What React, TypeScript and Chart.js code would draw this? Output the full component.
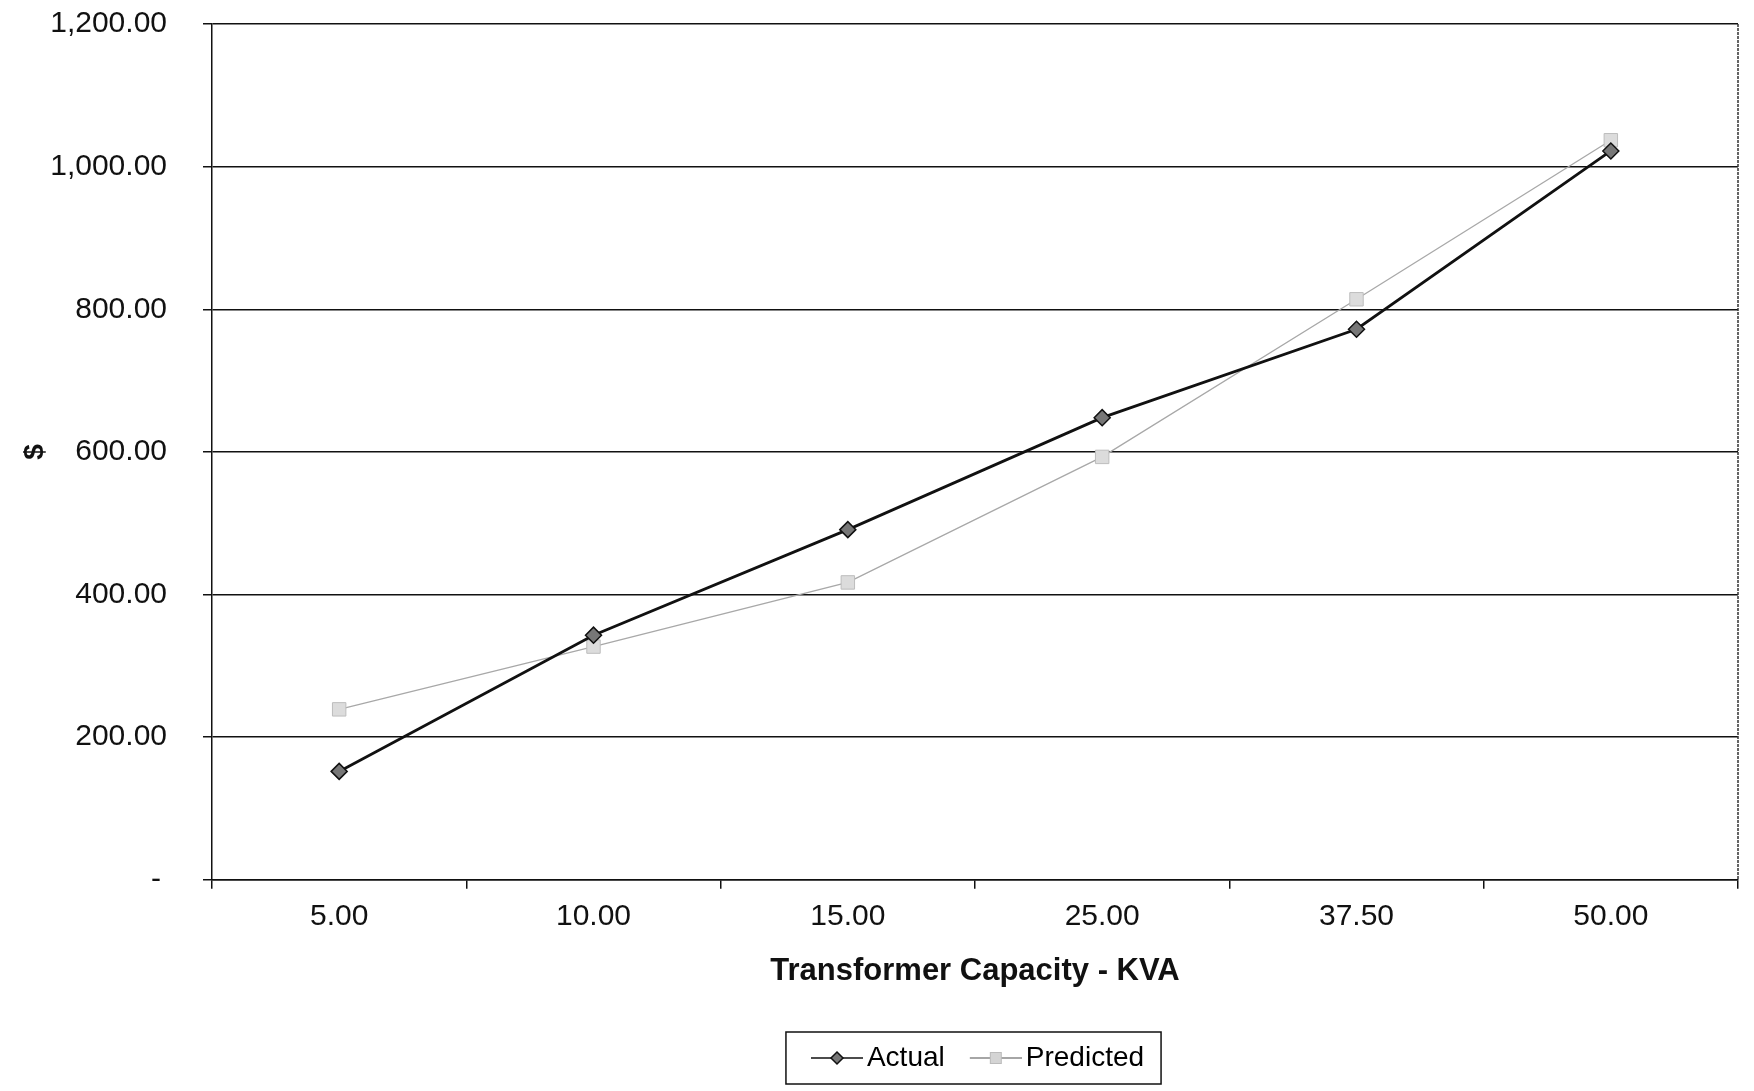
import React, { useEffect, useRef } from "react";
import { Chart, registerables } from "chart.js";

Chart.register(...registerables);

const categories = ["5.00", "10.00", "15.00", "25.00", "37.50", "50.00"];
const actualValues = [152, 343, 491, 648, 772, 1022];
const predictedValues = [239, 327, 417, 593, 814, 1037];
const yTicks = [0, 200, 400, 600, 800, 1000, 1200];

const FONT = "'Liberation Sans', Arial, sans-serif";

// legend marker image: transparent margin on the left, visible line+marker 52px wide
function makeLegendImage(kind: "actual" | "predicted"): HTMLCanvasElement {
  const c = document.createElement("canvas");
  c.width = 67;
  c.height = 18;
  const ctx = c.getContext("2d")!;
  const x0 = 15;
  ctx.strokeStyle = kind === "actual" ? "#111" : "#888";
  ctx.lineWidth = 1.5;
  ctx.beginPath();
  ctx.moveTo(x0, 9);
  ctx.lineTo(x0 + 52, 9);
  ctx.stroke();
  const cx = x0 + 26;
  if (kind === "actual") {
    ctx.fillStyle = "#777";
    ctx.strokeStyle = "#111";
    ctx.lineWidth = 1.5;
    ctx.beginPath();
    ctx.moveTo(cx, 3);
    ctx.lineTo(cx + 6, 9);
    ctx.lineTo(cx, 15);
    ctx.lineTo(cx - 6, 9);
    ctx.closePath();
    ctx.fill();
    ctx.stroke();
  } else {
    ctx.fillStyle = "#d4d4d4";
    ctx.strokeStyle = "#bbb";
    ctx.lineWidth = 1;
    ctx.fillRect(cx - 6, 3, 12, 12);
    ctx.strokeRect(cx - 5.5, 3.5, 11, 11);
  }
  return c;
}

const framePlugin = {
  id: "framePlugin",
  afterLayout(chart: any) {
    const lg = chart.legend;
    if (lg) {
      lg.left = chart.chartArea.left;
      lg.right = chart.chartArea.right;
    }
  },
  afterDraw(chart: any) {
    const { ctx, chartArea } = chart;
    ctx.save();
    ctx.strokeStyle = "#333";
    ctx.lineWidth = 1.5;
    ctx.setLineDash([3, 1]);
    ctx.beginPath();
    ctx.moveTo(chartArea.right, chartArea.top);
    ctx.lineTo(chartArea.right, chartArea.bottom);
    ctx.stroke();
    ctx.setLineDash([]);
    const boxes = chart.legend && chart.legend.legendHitBoxes;
    if (boxes && boxes.length) {
      let l = Infinity, r = -Infinity, t = Infinity, b = -Infinity;
      boxes.forEach((h: any) => {
        l = Math.min(l, h.left);
        r = Math.max(r, h.left + h.width);
        t = Math.min(t, h.top);
        b = Math.max(b, h.top + h.height);
      });
      ctx.strokeStyle = "#111";
      ctx.lineWidth = 1.5;
      ctx.strokeRect(l - 20, t - 12, r - l + 37, b - t + 24);
    }
    ctx.restore();
  },
};

export default function App() {
  const ref = useRef<HTMLCanvasElement | null>(null);

  useEffect(() => {
    document.body.style.margin = "0";
    const canvas = ref.current!;
    const chart = new Chart(canvas, {
      type: "line",
      data: {
        labels: categories,
        datasets: [
          {
            label: "Actual",
            data: actualValues,
            borderColor: "#111",
            borderWidth: 2.8,
            pointStyle: "rectRot",
            pointRadius: 8,
            pointBackgroundColor: "#777",
            pointBorderColor: "#111",
            pointBorderWidth: 1.5,
            tension: 0,
          },
          {
            label: "Predicted",
            data: predictedValues,
            borderColor: "#a8a8a8",
            borderWidth: 1.3,
            pointStyle: "rect",
            pointRadius: 9.5,
            pointBackgroundColor: "#dcdcdc",
            pointBorderColor: "#bdbdbd",
            pointBorderWidth: 1,
            tension: 0,
          },
        ],
      },
      options: {
        animation: false,
        responsive: false,
        maintainAspectRatio: false,
        layout: { padding: { top: 0, right: 16, bottom: 9, left: 0 } },
        plugins: {
          tooltip: { enabled: false },
          legend: {
            position: "bottom",
            labels: {
              usePointStyle: true,
              pointStyleWidth: 47,
              color: "#111",
              font: { family: FONT, size: 28 },
              padding: 20,
              generateLabels: (ch: any) =>
                ch.data.datasets.map((ds: any, i: number) => ({
                  text: ds.label,
                  fillStyle: "#fff",
                  strokeStyle: "#fff",
                  lineWidth: 0,
                  pointStyle: makeLegendImage(i === 0 ? "actual" : "predicted"),
                  datasetIndex: i,
                  hidden: false,
                })),
            },
          },
        },
        scales: {
          x: {
            type: "category",
            offset: true,
            grid: {
              display: true,
              offset: true,
              drawOnChartArea: false,
              drawTicks: true,
              tickLength: 9,
              color: "#111",
              lineWidth: 1.5,
            },
            border: { display: true, color: "#111", width: 1.5 },
            ticks: {
              color: "#111",
              font: { family: FONT, size: 30 },
              padding: 10,
            },
            title: {
              display: true,
              text: "Transformer Capacity - KVA",
              color: "#111",
              font: { family: FONT, size: 31, weight: "bold" },
              padding: { top: 8, bottom: 34 },
            },
          },
          y: {
            min: 0,
            max: 1200,
            afterBuildTicks: (scale: any) => {
              scale.ticks = yTicks.map((v) => ({ value: v }));
            },
            afterFit: (scale: any) => {
              scale.width = 212;
              scale.paddingTop = 24;
              scale.paddingBottom = 18;
            },
            grid: {
              color: "#111",
              lineWidth: 1.5,
              drawTicks: true,
              tickLength: 9,
            },
            border: { display: true, color: "#111", width: 1.5 },
            ticks: {
              color: "#111",
              font: { family: FONT, size: 30 },
              padding: 36,
              callback: (v: any) =>
                Number(v) === 0
                  ? "-\u2009"
                  : Number(v).toLocaleString("en-US", {
                      minimumFractionDigits: 2,
                      maximumFractionDigits: 2,
                    }),
            },
            title: {
              display: true,
              text: "$",
              color: "#111",
              font: { family: FONT, size: 28, weight: "bold" },
              padding: { top: 18, bottom: 0 },
            },
          },
        },
      },
      plugins: [framePlugin],
    } as any);
    return () => chart.destroy();
  }, []);

  return (
    <div style={{ position: "absolute", left: 0, top: 0, width: 1754, height: 1091, background: "#fff" }}>
      <canvas ref={ref} width={1754} height={1091} style={{ width: 1754, height: 1091 }} />
    </div>
  );
}
